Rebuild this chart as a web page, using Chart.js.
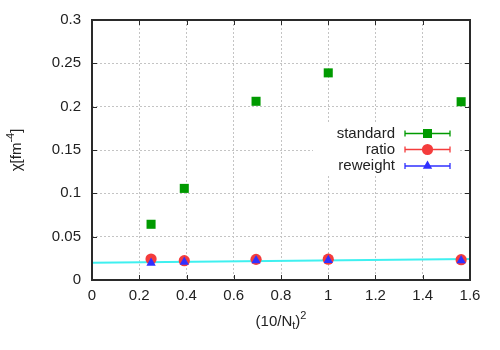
<!DOCTYPE html>
<html><head><meta charset="utf-8">
<script src="https://cdn.jsdelivr.net/npm/chart.js@4"></script>
<style>html,body{margin:0;padding:0;background:#fff}</style>
</head><body>
<canvas id="c" width="500" height="350"></canvas>
<script>
const xValues = [0.25, 0.390625, 0.6944, 1.0, 1.5625];
const standard = [0.0643, 0.1057, 0.2062, 0.2390, 0.2057];
const standardErr = [0.0010, 0.0010, 0.0028, 0.0012, 0.0012];
const ratio = [0.0242, 0.0223, 0.0238, 0.0240, 0.0234];
const ratioErr = [0.0006, 0.0006, 0.0006, 0.0006, 0.0006];
const reweight = [0.0197, 0.0208, 0.0225, 0.0228, 0.0225];
const reweightErr = [0.0006, 0.0006, 0.0006, 0.0006, 0.0006];
const fitX = [0, 1.6];
const fitY = [0.0198, 0.0243];
const xTicks = [0, 0.2, 0.4, 0.6, 0.8, 1.0, 1.2, 1.4, 1.6];
const xTickLabels = ['0', '0.2', '0.4', '0.6', '0.8', '1', '1.2', '1.4', '1.6'];
const yTicks = [0, 0.05, 0.1, 0.15, 0.2, 0.25, 0.3];
const yTickLabels = ['0', '0.05', '0.1', '0.15', '0.2', '0.25', '0.3'];
const seriesNames = ['standard', 'ratio', 'reweight'];

const FONT = '"Liberation Sans", Arial, sans-serif';
const TXT = '#222';
const C_GREEN = '#009a00', C_RED = '#f43c3c', C_BLUE = '#3030ff', C_CYAN = '#3ff0f0';

function pts(xs, ys) { return xs.map((x, i) => ({x: x, y: ys[i]})); }

function drawRich(ctx, parts, cx, cy) {
  let w = 0;
  parts.forEach(p => { ctx.font = p.size + 'px ' + FONT; p.w = ctx.measureText(p.t).width; w += p.w; });
  let x = cx - w / 2;
  ctx.textBaseline = 'middle';
  ctx.textAlign = 'left';
  parts.forEach(p => { ctx.font = p.size + 'px ' + FONT; ctx.fillText(p.t, x, cy + (p.dy || 0)); x += p.w; });
}

const deco = {
  id: 'deco',
  beforeDatasetsDraw(chart) {
    const ctx = chart.ctx;
    ctx.save();
    ctx.fillStyle = '#fff';
    ctx.fillRect(313, 122, 145, 54);
    chart.data.datasets.forEach((ds) => {
      if (!ds.errors) return;
      const xs = chart.scales.x, ys = chart.scales.y;
      ctx.strokeStyle = ds.borderColor; ctx.lineWidth = 1;
      ds.data.forEach((p, i) => {
        const px = xs.getPixelForValue(p.x);
        const y1 = ys.getPixelForValue(p.y - ds.errors[i]);
        const y2 = ys.getPixelForValue(p.y + ds.errors[i]);
        ctx.beginPath();
        ctx.moveTo(px, y1); ctx.lineTo(px, y2);
        ctx.moveTo(px - 3, y1); ctx.lineTo(px + 3, y1);
        ctx.moveTo(px - 3, y2); ctx.lineTo(px + 3, y2);
        ctx.stroke();
      });
    });
    const rows = [
      {name: seriesNames[0], color: C_GREEN, style: 'rect', r: 6.4, y: 133.5},
      {name: seriesNames[1], color: C_RED, style: 'circle', r: 5.6, y: 149.5},
      {name: seriesNames[2], color: C_BLUE, style: 'triangle', r: 5.4, y: 166}
    ];
    rows.forEach(row => {
      ctx.fillStyle = TXT;
      ctx.font = '15px ' + FONT;
      ctx.textAlign = 'right';
      ctx.textBaseline = 'middle';
      ctx.fillText(row.name, 395, row.y);
      ctx.strokeStyle = row.color; ctx.lineWidth = 1.3;
      ctx.beginPath();
      ctx.moveTo(405, row.y); ctx.lineTo(450, row.y);
      ctx.moveTo(405, row.y - 3); ctx.lineTo(405, row.y + 3);
      ctx.moveTo(450, row.y - 3); ctx.lineTo(450, row.y + 3);
      ctx.stroke();
      ctx.fillStyle = row.color;
      Chart.helpers.drawPoint(ctx, {pointStyle: row.style, radius: row.r, borderWidth: 0, rotation: 0}, 427.5, row.y);
    });
    ctx.restore();
  },
  afterDraw(chart) {
    const ctx = chart.ctx, a = chart.chartArea;
    const xs = chart.scales.x, ys = chart.scales.y;
    ctx.save();
    ctx.strokeStyle = '#2a2a2a';
    ctx.lineWidth = 1;
    ctx.beginPath();
    xTicks.forEach(v => {
      const px = Math.round(xs.getPixelForValue(v)) + 0.5;
      ctx.moveTo(px, a.bottom); ctx.lineTo(px, a.bottom - 5);
      ctx.moveTo(px, a.top); ctx.lineTo(px, a.top + 5);
    });
    yTicks.forEach(v => {
      const py = Math.round(ys.getPixelForValue(v)) + 0.5;
      ctx.moveTo(a.left, py); ctx.lineTo(a.left + 5, py);
      ctx.moveTo(a.right, py); ctx.lineTo(a.right - 5, py);
    });
    ctx.stroke();
    ctx.lineWidth = 2;
    ctx.strokeRect(a.left, a.top, a.right - a.left, a.bottom - a.top);
    ctx.fillStyle = TXT;
    drawRich(ctx, [
      {t: '(10/N', size: 15},
      {t: 't', size: 11, dy: 4},
      {t: ')', size: 15},
      {t: '2', size: 11, dy: -6}
    ], (a.left + a.right) / 2, 322);
    ctx.translate(17, (a.top + a.bottom) / 2);
    ctx.rotate(-Math.PI / 2);
    drawRich(ctx, [
      {t: 'χ[fm', size: 15},
      {t: '-4', size: 11, dy: -6},
      {t: ']', size: 15}
    ], 0, 0);
    ctx.restore();
  }
};

const tickFont = {family: FONT, size: 15};

new Chart(document.getElementById('c'), {
  type: 'scatter',
  data: {
    datasets: [
      {label: seriesNames[2], data: pts(xValues, reweight), errors: reweightErr, pointStyle: 'triangle', pointRadius: 5.4, pointHoverRadius: 5.4, backgroundColor: C_BLUE, borderColor: C_BLUE, pointBorderWidth: 0, order: 1},
      {label: seriesNames[1], data: pts(xValues, ratio), errors: ratioErr, pointStyle: 'circle', pointRadius: 5.6, pointHoverRadius: 5.6, backgroundColor: C_RED, borderColor: C_RED, pointBorderWidth: 0, order: 2},
      {label: seriesNames[0], data: pts(xValues, standard), errors: standardErr, pointStyle: 'rect', pointRadius: 6.4, pointHoverRadius: 6.4, backgroundColor: C_GREEN, borderColor: C_GREEN, pointBorderWidth: 0, order: 3},
      {label: 'fit', type: 'line', data: pts(fitX, fitY), borderColor: C_CYAN, borderWidth: 2, pointRadius: 0, fill: false, order: 4}
    ]
  },
  options: {
    responsive: false,
    animation: false,
    devicePixelRatio: 1,
    layout: {padding: {top: 20, right: 30, left: 0, bottom: 0}},
    plugins: {legend: {display: false}, tooltip: {enabled: false}},
    events: [],
    scales: {
      x: {
        type: 'linear', min: 0, max: 1.6,
        afterBuildTicks: s => { s.ticks = xTicks.map(v => ({value: v})); },
        afterFit: s => { s.height = 70; },
        ticks: {font: tickFont, color: TXT, padding: 7, maxRotation: 0, autoSkip: false, callback: (v, i) => xTickLabels[i]},
        grid: {color: '#c4c4c4', lineWidth: 1, drawTicks: false},
        border: {display: false, dash: [2, 2]}
      },
      y: {
        type: 'linear', min: 0, max: 0.3,
        afterBuildTicks: s => { s.ticks = yTicks.map(v => ({value: v})); },
        afterFit: s => { s.width = 92; },
        ticks: {font: tickFont, color: TXT, padding: 11, autoSkip: false, callback: (v, i) => yTickLabels[i]},
        grid: {color: '#c4c4c4', lineWidth: 1, drawTicks: false},
        border: {display: false, dash: [2, 2]}
      }
    }
  },
  plugins: [deco]
});
</script>
</body></html>
